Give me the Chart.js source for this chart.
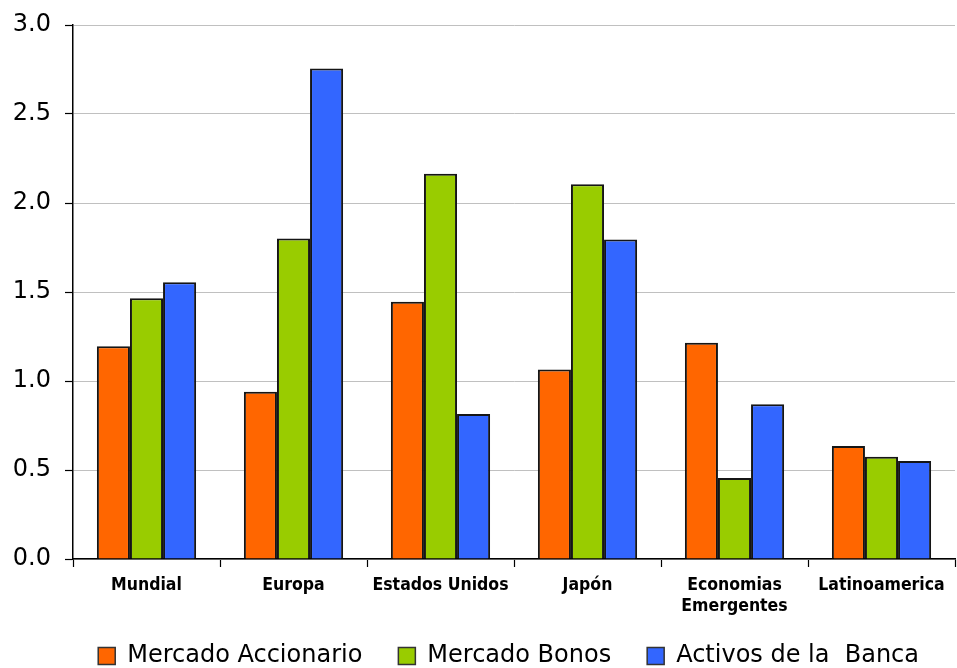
<!DOCTYPE html>
<html>
<head>
<meta charset="utf-8">
<script src="https://cdn.jsdelivr.net/npm/chart.js@4.4.1/dist/chart.umd.min.js"></script>
<style>
  html, body { margin: 0; padding: 0; background: #fff; }
  #wrap { width: 957px; height: 668px; position: relative; }
</style>
</head>
<body>
<div id="wrap"><canvas id="c"></canvas></div>
<script>
// Regions shown along the horizontal axis
const regiones = ['Mundial', 'Europa', 'Estados Unidos', 'Japón', ['Economias', 'Emergentes'], 'Latinoamerica'];

// Series values per region
const mercadoAccionario = [1.195, 0.94, 1.445, 1.065, 1.215, 0.635];
const mercadoBonos      = [1.465, 1.80, 2.165, 2.105, 0.455, 0.575];
const activosBanca      = [1.555, 2.755, 0.815, 1.795, 0.87, 0.55];

// Series names for the legend
const nombresSeries = ['Mercado Accionario', 'Mercado Bonos', 'Activos de la  Banca'];

// Vertical axis range and step
const yMin = 0, yMax = 3.0, yStep = 0.5;

const colores = ['#ff6600', '#99cc00', '#3366ff'];
const borde = '#151515';

const series = [mercadoAccionario, mercadoBonos, activosBanca];

new Chart(document.getElementById('c'), {
  type: 'bar',
  data: {
    labels: regiones,
    datasets: series.map((vals, i) => ({
      label: nombresSeries[i],
      data: vals,
      backgroundColor: colores[i],
      borderColor: borde,
      borderWidth: 2,
      categoryPercentage: 0.675,
      barPercentage: 1.0
    }))
  },
  options: {
    responsive: true,
    maintainAspectRatio: false,
    animation: false,
    layout: { padding: { top: 25, right: 2, left: 0, bottom: 0 } },
    plugins: {
      tooltip: { enabled: false },
      legend: {
        position: 'bottom',
        fullSize: true,
        align: 'end',
        maxHeight: 60,
        labels: {
          boxWidth: 17,
          boxHeight: 17,
          padding: 36,
          color: '#000',
          font: { family: "'DejaVu Sans', sans-serif", size: 24 },
          generateLabels: chart => chart.data.datasets.map((d, i) => ({
            text: d.label,
            fillStyle: d.backgroundColor,
            strokeStyle: '#333',
            lineWidth: 1.5,
            datasetIndex: i,
            hidden: false,
            fontColor: '#000'
          }))
        }
      }
    },
    scales: {
      x: {
        offset: true,
        grid: {
          display: true,
          drawOnChartArea: false,
          drawTicks: true,
          tickLength: 8,
          tickColor: '#000',
          tickWidth: 1.2
        },
        border: { color: '#000', width: 1.5 },
        ticks: {
          color: '#000',
          padding: 8,
          maxRotation: 0,
          autoSkip: false,
          font: { family: "'Liberation Sans Narrow', 'DejaVu Sans Condensed', sans-serif", size: 17.5, weight: 'bold', lineHeight: 1.2 }
        },
        afterFit: s => { s.height = 49; },
        // let the two-line category label extend below the axis box
        afterUpdate: s => { s._computeLabelArea = () => null; }
      },
      y: {
        min: yMin,
        max: yMax,
        grid: {
          color: '#c0c0c0',
          lineWidth: 1,
          drawTicks: true,
          tickLength: 8,
          tickColor: '#000',
          tickWidth: 1.2
        },
        border: { color: '#000', width: 1.5 },
        ticks: {
          stepSize: yStep,
          color: '#000',
          padding: 14,
          font: { family: "'DejaVu Sans', sans-serif", size: 24, lineHeight: 0.9 },
          callback: v => Number(v).toFixed(1)
        },
        afterFit: s => { s.width = 73; }
      }
    }
  }
});
</script>
</body>
</html>
